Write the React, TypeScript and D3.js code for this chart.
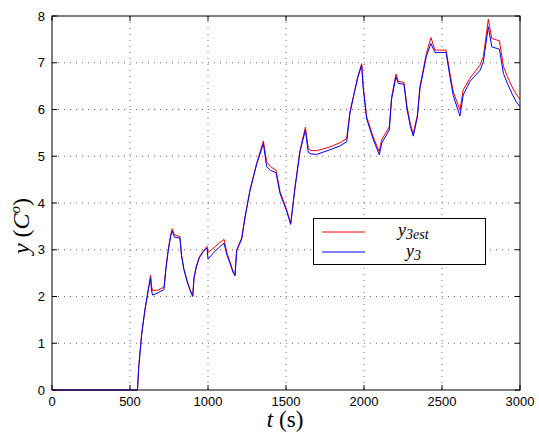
import React from "react";
import * as d3 from "d3";

const tValues = [0, 548, 555, 575, 596, 617, 632, 638, 645, 680, 718, 730, 745, 760, 770, 785, 820, 830, 845, 865, 885, 902, 910, 925, 945, 970, 994, 1000, 1040, 1070, 1103, 1120, 1140, 1160, 1173, 1184, 1216, 1237, 1269, 1312, 1355, 1376, 1400, 1436, 1462, 1505, 1530, 1558, 1590, 1624, 1643, 1660, 1697, 1782, 1846, 1889, 1910, 1931, 1960, 1985, 1995, 2017, 2058, 2098, 2113, 2162, 2177, 2205, 2220, 2256, 2276, 2297, 2316, 2342, 2359, 2400, 2429, 2455, 2526, 2551, 2572, 2615, 2636, 2679, 2744, 2765, 2797, 2819, 2868, 2894, 2920, 2950, 2975, 3000];
const y3est = [0, 0, 0.45, 1.2, 1.72, 2.14, 2.46, 2.22, 2.12, 2.14, 2.2, 2.6, 3.0, 3.3, 3.45, 3.32, 3.28, 2.9, 2.6, 2.35, 2.15, 2.01, 2.4, 2.65, 2.85, 2.98, 3.07, 2.94, 3.05, 3.14, 3.22, 2.95, 2.75, 2.55, 2.46, 3.0, 3.25, 3.7, 4.28, 4.85, 5.33, 4.88, 4.78, 4.7, 4.24, 3.85, 3.56, 4.35, 5.13, 5.62, 5.17, 5.12, 5.12, 5.2, 5.29, 5.38, 5.95, 6.27, 6.7, 6.98, 6.49, 5.85, 5.42, 5.1, 5.35, 5.63, 6.27, 6.76, 6.6, 6.58, 6.06, 5.7, 5.47, 5.88, 6.5, 7.2, 7.54, 7.27, 7.27, 6.77, 6.38, 5.99, 6.42, 6.67, 6.95, 7.13, 7.93, 7.52, 7.47, 6.92, 6.7, 6.48, 6.33, 6.22];
const y3 = [0, 0, 0.45, 1.2, 1.72, 2.14, 2.4, 2.12, 2.03, 2.08, 2.15, 2.58, 2.98, 3.28, 3.4, 3.27, 3.25, 2.88, 2.58, 2.33, 2.13, 2.0, 2.38, 2.63, 2.83, 2.96, 3.04, 2.8, 2.95, 3.05, 3.14, 2.9, 2.72, 2.52, 2.44, 2.98, 3.23, 3.68, 4.26, 4.83, 5.27, 4.78, 4.7, 4.65, 4.2, 3.82, 3.54, 4.33, 5.1, 5.56, 5.08, 5.05, 5.04, 5.14, 5.22, 5.31, 5.92, 6.25, 6.68, 6.95, 6.45, 5.8, 5.37, 5.03, 5.28, 5.56, 6.22, 6.7, 6.56, 6.54, 6.0, 5.64, 5.43, 5.84, 6.46, 7.14, 7.41, 7.22, 7.22, 6.7, 6.3, 5.86, 6.31, 6.6, 6.84, 7.02, 7.77, 7.34, 7.29, 6.77, 6.55, 6.33, 6.17, 6.06];

const xTicks = [0, 500, 1000, 1500, 2000, 2500, 3000];
const yTicks = [0, 1, 2, 3, 4, 5, 6, 7, 8];
const legendLabels = ["3est", "3"];

const W = 539;
const H = 436;
const L = 52, R = 520, T = 16, B = 390;

export default function App() {
  const x = d3.scaleLinear().domain([0, 3000]).range([L, R]);
  const y = d3.scaleLinear().domain([0, 8]).range([B, T]);
  const line = d3
    .line<number>()
    .x((_, i) => x(tValues[i]))
    .y((d) => y(d));
  const tickFont = "'Liberation Sans', Arial, sans-serif";
  const serif = "'Liberation Serif', 'Times New Roman', serif";
  return (
    <svg width={W} height={H} style={{ position: "absolute", left: 0, top: 0, background: "#fff" }}>
      <rect x={0} y={0} width={W} height={H} fill="#fff" />
      {/* grid */}
      {xTicks.slice(1, -1).map((t) => (
        <line key={"gx" + t} x1={x(t)} x2={x(t)} y1={T} y2={B} stroke="#444" strokeWidth={0.8} strokeDasharray="1,5" />
      ))}
      {yTicks.slice(1, -1).map((t) => (
        <line key={"gy" + t} x1={L} x2={R} y1={y(t)} y2={y(t)} stroke="#444" strokeWidth={0.8} strokeDasharray="1,5" />
      ))}
      {/* ticks */}
      {xTicks.map((t) => (
        <g key={"tx" + t}>
          <line x1={x(t)} x2={x(t)} y1={B} y2={B - 5} stroke="#000" />
          <line x1={x(t)} x2={x(t)} y1={T} y2={T + 5} stroke="#000" />
          <text x={x(t)} y={B + 16} textAnchor="middle" fontFamily={tickFont} fontSize={13} fill="#000">
            {t}
          </text>
        </g>
      ))}
      {yTicks.map((t) => (
        <g key={"ty" + t}>
          <line x1={L} x2={L + 5} y1={y(t)} y2={y(t)} stroke="#000" />
          <line x1={R} x2={R - 5} y1={y(t)} y2={y(t)} stroke="#000" />
          <text x={L - 7} y={y(t) + 4.5} textAnchor="end" fontFamily={tickFont} fontSize={13} fill="#000">
            {t}
          </text>
        </g>
      ))}
      {/* lines */}
      <path d={line(y3est) || ""} fill="none" stroke="#ff0000" strokeWidth={1} />
      <path d={line(y3) || ""} fill="none" stroke="#0000ff" strokeWidth={1} />
      {/* frame */}
      <rect x={L} y={T} width={R - L} height={B - T} fill="none" stroke="#000" strokeWidth={1} />
      {/* legend */}
      <g>
        <rect x={313.5} y={218.5} width={172} height={46} fill="#fff" stroke="#000" strokeWidth={1} />
        <line x1={322} x2={365} y1={232} y2={232} stroke="#ff0000" strokeWidth={1} />
        <line x1={322} x2={365} y1={252} y2={252} stroke="#0000ff" strokeWidth={1} />
        <text x={398} y={236} fontFamily={serif} fontSize={18} fontStyle="italic" fill="#000">
          y<tspan fontSize={14} dy={3}>{legendLabels[0]}</tspan>
        </text>
        <text x={406} y={257} fontFamily={serif} fontSize={18} fontStyle="italic" fill="#000">
          y<tspan fontSize={14} dy={3}>{legendLabels[1]}</tspan>
        </text>
      </g>
      {/* axis labels */}
      <text x={285} y={427} textAnchor="middle" fontFamily={serif} fontSize={23} fill="#000">
        <tspan fontStyle="italic">t</tspan>
        <tspan dx={6}>(s)</tspan>
      </text>
      <text
        transform={`translate(29,${226}) rotate(-90)`}
        textAnchor="middle"
        fontFamily={serif}
        fontSize={24}
        fill="#000"
      >
        <tspan fontStyle="italic">y</tspan>
        <tspan dx={6}>(</tspan>
        <tspan fontStyle="italic">C</tspan>
        <tspan fontStyle="italic" fontSize={15} dy={-9}>o</tspan>
        <tspan dy={9}>)</tspan>
      </text>
    </svg>
  );
}
